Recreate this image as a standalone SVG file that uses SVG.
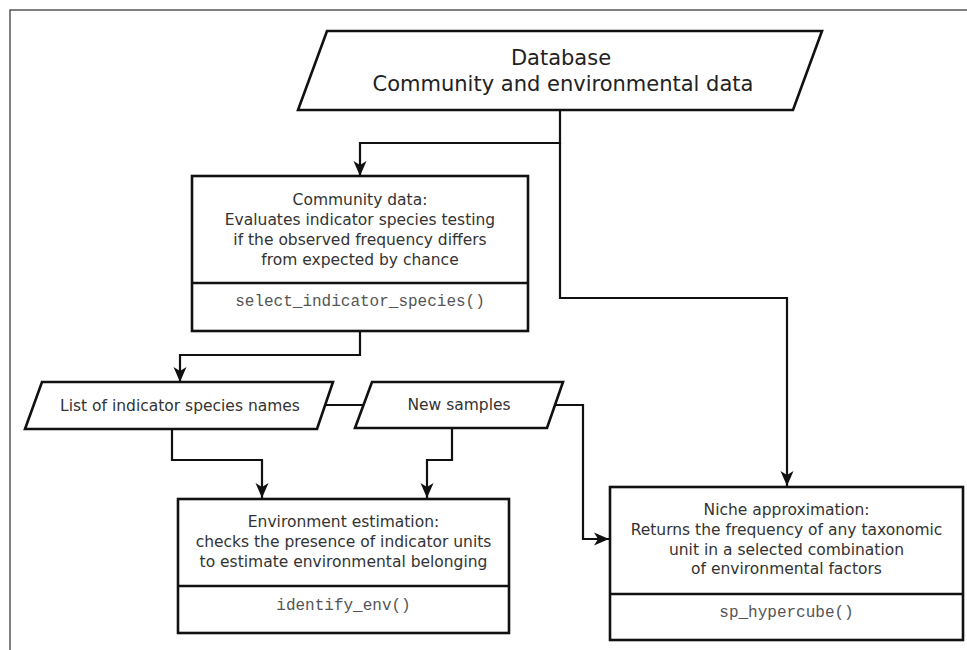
<svg xmlns="http://www.w3.org/2000/svg" width="967" height="650" viewBox="0 0 967 650">
<style>
.frame{fill:none;stroke:#555;stroke-width:1.5}
.box{fill:#fff;stroke:#111;stroke-width:2.6}
.conn{fill:none;stroke:#111;stroke-width:2.2}
.t{font-family:"DejaVu Sans",sans-serif;font-size:15.5px;fill:#333;text-anchor:middle}
.big{font-family:"DejaVu Sans",sans-serif;font-size:21px;fill:#222;text-anchor:middle}
.code{font-family:"Liberation Mono","Courier New",monospace;font-size:16px;fill:#555;text-anchor:middle}
</style>
<defs>
<marker id="arr" markerUnits="userSpaceOnUse" markerWidth="16" markerHeight="16" viewBox="0 0 16 16" refX="15" refY="8" orient="auto">
<path d="M0,1.5 L15,8 L0,14.5 L4,8 z" fill="#111"/>
</marker>
</defs>
<rect width="967" height="650" fill="#fff"/>
<path class="frame" d="M10,650 V10 H967"/>
<g id="connectors">
<path class="conn" d="M560,110 V143 H360 V176" marker-end="url(#arr)"/>
<path class="conn" d="M560,143 V298 H787 V486" marker-end="url(#arr)"/>
<path class="conn" d="M360,331 V355 H180 V382" marker-end="url(#arr)"/>
<path class="conn" d="M325,405 H364"/>
<path class="conn" d="M172,429 V460 H262 V498" marker-end="url(#arr)"/>
<path class="conn" d="M452,428 V460 H427 V498" marker-end="url(#arr)"/>
<path class="conn" d="M555,405 H583 V539 H609" marker-end="url(#arr)"/>
</g>
<g id="database">
<polygon class="box" points="327,31 822,31 793,110 298,110"/>
<text class="big" x="561" y="65">Database</text>
<text class="big" x="563" y="91">Community and environmental data</text>
</g>
<g id="community">
<rect class="box" x="192" y="176" width="336" height="155"/>
<line class="box" x1="192" y1="283" x2="528" y2="283"/>
<text class="t" x="360" y="205">Community data:</text>
<text class="t" x="360" y="225">Evaluates indicator species testing</text>
<text class="t" x="360" y="245">if the observed frequency differs</text>
<text class="t" x="360" y="265">from expected by chance</text>
<text class="code" x="360" y="306">select_indicator_species()</text>
</g>
<g id="list">
<polygon class="box" points="42,382 333,382 317,429 25,429"/>
<text class="t" x="180" y="411">List of indicator species names</text>
</g>
<g id="newsamples">
<polygon class="box" points="372,382 563,382 547,428 355,428"/>
<text class="t" x="459" y="410">New samples</text>
</g>
<g id="environment">
<rect class="box" x="178" y="499" width="331" height="134"/>
<line class="box" x1="178" y1="586" x2="509" y2="586"/>
<text class="t" x="343.5" y="527">Environment estimation:</text>
<text class="t" x="343.5" y="547">checks the presence of indicator units</text>
<text class="t" x="343.5" y="567">to estimate environmental belonging</text>
<text class="code" x="343.5" y="610">identify_env()</text>
</g>
<g id="niche">
<rect class="box" x="610" y="487" width="353" height="153"/>
<line class="box" x1="610" y1="594" x2="963" y2="594"/>
<text class="t" x="786.5" y="515">Niche approximation:</text>
<text class="t" x="786.5" y="535">Returns the frequency of any taxonomic</text>
<text class="t" x="786.5" y="555">unit in a selected combination</text>
<text class="t" x="786.5" y="574">of environmental factors</text>
<text class="code" x="786.5" y="617">sp_hypercube()</text>
</g>
</svg>
